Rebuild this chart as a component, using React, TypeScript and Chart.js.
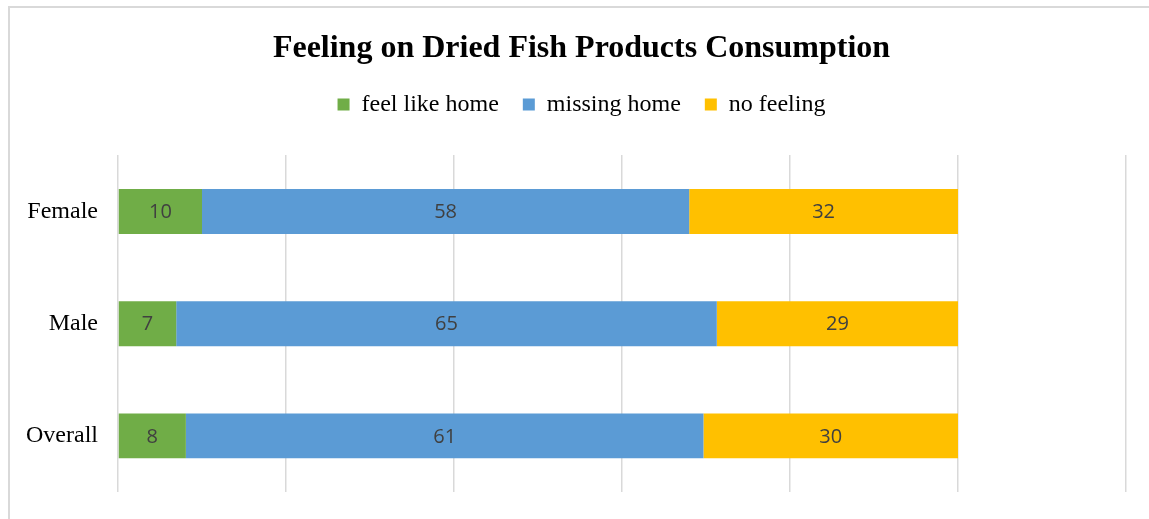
import React, { useEffect, useRef } from "react";
import { Chart, registerables } from "chart.js";

Chart.register(...registerables);

const categories = ["Female", "Male", "Overall"];
const feelLikeHome = [10, 7, 8];
const missingHome = [58, 65, 61];
const noFeeling = [32, 29, 30];
const seriesNames = ["feel like home", "missing home", "no feeling"];
const seriesColors = ["#70AD47", "#5B9BD5", "#FFC000"];
const axisMax = 120;
const axisStep = 20;

const rawSeries = [feelLikeHome, missingHome, noFeeling];
const totals = categories.map((_, i) => rawSeries.reduce((s, arr) => s + arr[i], 0));
const pctSeries = rawSeries.map((arr) => arr.map((v, i) => (v / totals[i]) * 100));

const SERIF = '"Liberation Serif", "Times New Roman", serif';
const SANS = '"Open Sans", "Liberation Sans", sans-serif';

const dataLabelPlugin = {
  id: "dataLabels",
  afterDatasetsDraw(chart: any) {
    const ctx = chart.ctx;
    ctx.save();
    ctx.font = `20px ${SANS}`;
    ctx.fillStyle = "#404040";
    ctx.textAlign = "center";
    ctx.textBaseline = "middle";
    chart.data.datasets.forEach((ds: any, di: number) => {
      const meta = chart.getDatasetMeta(di);
      meta.data.forEach((el: any, i: number) => {
        const p = el.getProps(["x", "y", "base"], true);
        const cx = (p.x + p.base) / 2;
        ctx.fillText(String(rawSeries[di][i]), cx, p.y + 1);
      });
    });
    ctx.restore();
  },
};

export default function App() {
  const ref = useRef<HTMLCanvasElement | null>(null);

  useEffect(() => {
    document.documentElement.style.overflow = "hidden";
    document.body.style.overflow = "hidden";
    if (!ref.current) return;
    const chart = new Chart(ref.current, {
      type: "bar",
      data: {
        labels: categories,
        datasets: seriesNames.map((name, i) => ({
          label: name,
          data: pctSeries[i],
          backgroundColor: seriesColors[i],
          borderWidth: 0,
          barPercentage: 0.4,
          categoryPercentage: 1,
        })),
      },
      options: {
        indexAxis: "y",
        responsive: false,
        animation: false,
        layout: { padding: { left: 27, right: 27, top: 0, bottom: 36 } },
        plugins: {
          title: {
            display: true,
            text: "Feeling on Dried Fish Products Consumption",
            color: "#000000",
            font: { family: SERIF, size: 32, weight: "bold" },
            padding: { top: 22, bottom: 0 },
          },
          legend: {
            display: true,
            position: "top",
            labels: {
              color: "#000000",
              font: { family: SERIF, size: 24 },
              boxWidth: 12,
              boxHeight: 12,
              padding: 24,
            },
          },
          tooltip: { enabled: false },
        },
        scales: {
          x: {
            position: "top",
            stacked: true,
            min: 0,
            max: axisMax,
            ticks: { display: false, stepSize: axisStep },
            grid: { color: "#D9D9D9", lineWidth: 1.5, drawTicks: false },
            border: { display: false },
            afterFit: (scale: any) => {
              scale.height = 29;
            },
          },
          y: {
            stacked: true,
            grid: { display: false },
            border: { display: false },
            ticks: {
              color: "#000000",
              font: { family: SERIF, size: 24 },
              padding: 12,
            },
            afterFit: (scale: any) => {
              scale.width = 81;
              scale._computeLabelArea = () => undefined;
            },
          },
        },
      },
      plugins: [dataLabelPlugin],
    });
    return () => chart.destroy();
  }, []);

  return (
    <div
      style={{
        position: "absolute",
        left: 8,
        top: 6,
        width: 1143,
        height: 540,
        border: "2px solid #D9D9D9",
        background: "#FFFFFF",
      }}
    >
      <canvas ref={ref} width={1143} height={520} style={{ display: "block" }} />
    </div>
  );
}
